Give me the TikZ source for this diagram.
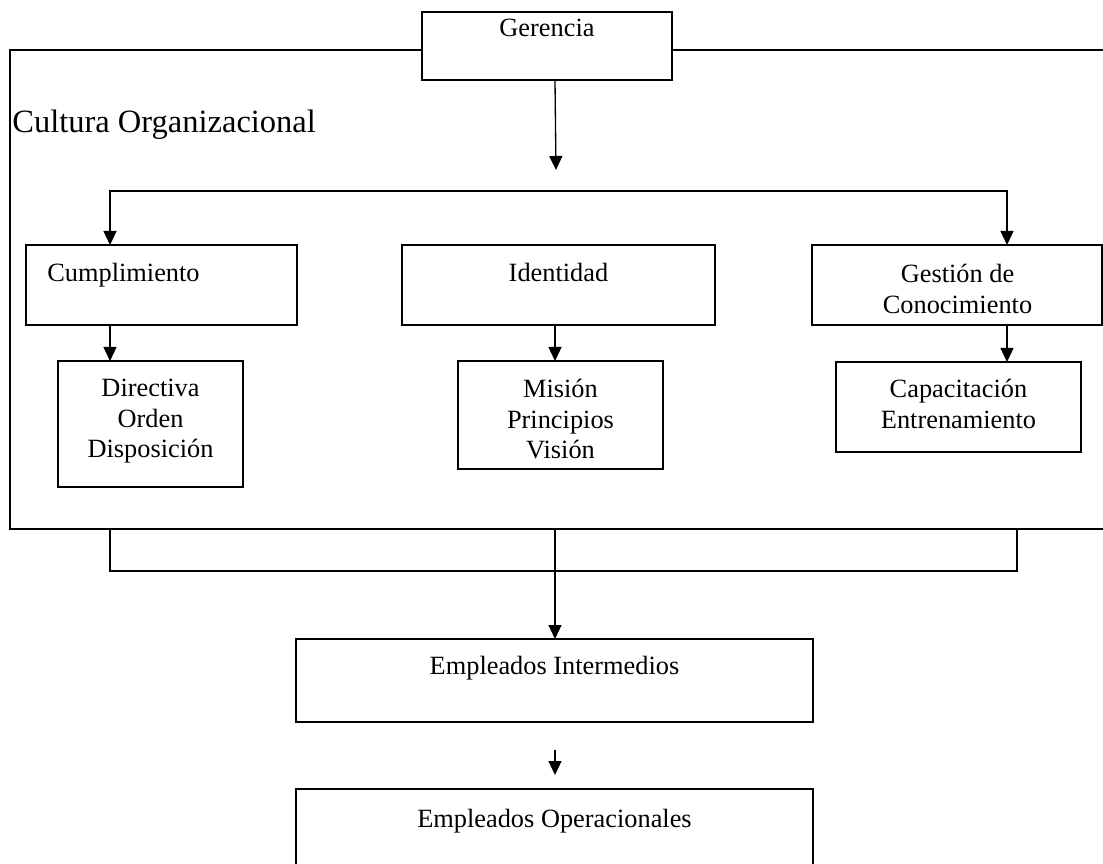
\documentclass[tikz,border=0pt]{standalone}
\usepackage{fontspec}
\setmainfont{Liberation Serif}
\usetikzlibrary{
	arrows.meta,									% puntas de flecha
	positioning,									% posicion relativa de nodos
}

\tikzset{
	caja/.style={draw, line width=0.75pt, inner sep=0pt, outer sep=0pt},
	tam/.style 2 args={minimum width={#1*0.02cm}, minimum height={#2*0.02cm}},
	texto/.style={font=\fontsize{15}{17.3}\selectfont, inner sep=0pt, align=center},
	marco/.style={line width=0.75pt},
	flecha/.style={-{Triangle[length=0.28cm, width=0.26cm]}, line width=0.75pt},
	dobleflecha/.style={{Triangle[length=0.28cm, width=0.26cm]}-{Triangle[length=0.28cm, width=0.26cm]}, line width=0.75pt},
}

\begin{document}
\begin{tikzpicture}[x=0.02cm, y=-0.02cm]
	\useasboundingbox (0,0) rectangle (1103,864);
	\clip (0,0) rectangle (1103,864);

	% cajas
	\node[caja, tam={250}{68}] (ger) at (547,46) {};
	\node[caja, tam={271}{80}] (cump) at (161.5,285) {};
	\node[caja, tam={313}{80}] (iden) at (558.5,285) {};
	\node[caja, tam={290}{80}] (gest) at (957,285) {};
	\node[caja, tam={185}{126}] (dir) at (150.5,424) {};
	\node[caja, tam={205}{108}] (mis) at (560.5,415) {};
	\node[caja, tam={245}{90}] (cap) at (958.5,407) {};
	\node[caja, tam={517}{83}] (emi) at (554.5,680.5) {};
	\node[caja, tam={517}{100}] (emo) at (554.5,839) {};

	% textos
	\node[texto, anchor=base] (gert) at (547,37) {Gerencia};
	\node[font=\fontsize{18.5}{22}\selectfont, inner sep=0pt, anchor=base west] (cult) at (12,133) {Cultura Organizacional};
	\node[texto, anchor=base west] (cumpt) at (47,282) {Cumplimiento};
	\node[texto, anchor=base] (ident) at (558.5,282) {Identidad};
	\node[texto, anchor=north] (gestt) at (957.5,264) {Gestión de\\Conocimiento};
	\node[texto, anchor=north] (dirt) at (150.5,379) {Directiva\\Orden\\Disposición};
	\node[texto, anchor=north] (mist) at (560.5,379) {Misión\\Principios\\Visión};
	\node[texto, anchor=north] (capt) at (958.5,379) {Capacitación\\Entrenamiento};
	\node[texto, anchor=base] (emit) at (554.5,675) {Empleados Intermedios};
	\node[texto, anchor=base] (emot) at (554.5,827) {Empleados Operacionales};

	% puntos de apoyo
	\coordinate (xl) at (110,0);
	\coordinate (xm) at (555,0);
	\coordinate (xr) at (1007,0);
	\coordinate (xb) at (1017,0);
	\coordinate (ftl) at (10,50);
	\coordinate (fbl) at (10,529);
	\coordinate (ftr) at (1110,50);
	\coordinate (fbr) at (1110,529);
	\coordinate (rama) at (0,191);
	\coordinate (ret) at (0,571);
	\coordinate (gtip) at (556,170);

	% marco de la cultura organizacional
	\draw[marco] (ger.west |- ftl) -- (ftl) -- (fbl) -- (fbr);
	\draw[marco] (ger.east |- ftr) -- (ftr);

	% conectores
	\draw[flecha] (ger.south -| xm) -- (gtip);
	\draw[dobleflecha] (cump.north -| xl) -- (xl |- rama) -- (xr |- rama) -- (gest.north -| xr);
	\draw[flecha] (cump.south -| xl) -- (dir.north -| xl);
	\draw[flecha] (iden.south -| xm) -- (mis.north -| xm);
	\draw[flecha] (gest.south -| xr) -- (cap.north -| xr);
	\draw[marco] (xl |- fbl) -- (xl |- ret) -- (xb |- ret) -- (xb |- fbl);
	\draw[flecha] (xm |- fbl) -- (emi.north -| xm);
	\draw[flecha] ([yshift=-0.56cm]emi.south -| xm) -- ([yshift=0.28cm]emo.north -| xm);
\end{tikzpicture}
\end{document}
